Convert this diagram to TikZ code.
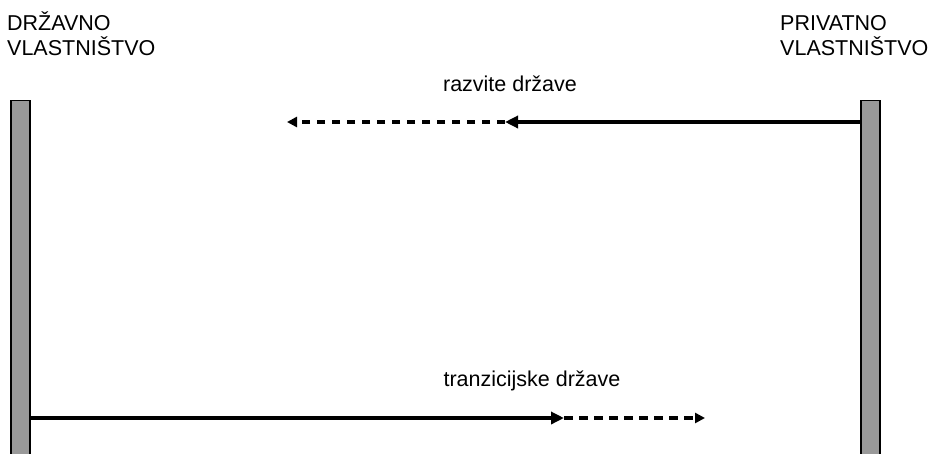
\documentclass[tikz,border=0pt]{standalone}
\usepackage{fontspec}
\setmainfont{Liberation Sans}
\usetikzlibrary{arrows.meta}
\begin{document}
\begin{tikzpicture}[x=1pt,y=-1pt,
  ownbar/.style={draw=black, line width=1.2pt, fill=black!40, inner sep=0pt,
                 minimum width=19pt, minimum height=360pt, anchor=north},
  heading/.style={font=\fontsize{21.5}{25}\selectfont, align=left, inner sep=0pt, anchor=base west},
  flowlabel/.style={font=\fontsize{21.5}{25}\selectfont, inner sep=0pt, anchor=base},
  solidflow/.style={line width=4.6pt, -{Triangle[length=13pt,width=12pt]}},
  dashflow/.style={line width=3.2pt, dash pattern=on 8.5pt off 6.5pt, -{Triangle[length=10pt,width=10pt]}}]
  \useasboundingbox (0,0) rectangle (931,453);
  \clip (0,0) rectangle (931,453);

  % ownership columns
  \node[ownbar] (statebar) at (20.5,100) {};
  \node[ownbar] (privbar) at (870.5,100) {};

  % headings (anchored at the baseline of the second line)
  \node[heading] (statehead) at (7,55) {DRŽAVNO\\VLASTNIŠTVO};
  \node[heading] (privhead) at (780,55) {PRIVATNO\\VLASTNIŠTVO};

  % developed countries: from private towards state ownership
  \coordinate (devmid) at (505,122);
  \coordinate (devend) at (287,122);
  \node[flowlabel] (devlabel) at (510,91) {razvite države};
  \draw[solidflow] (privbar.west |- devmid) -- (devmid);
  \draw[dashflow] (devmid) -- (devend);

  % transition countries: from state towards private ownership
  \coordinate (transmid) at (564,418);
  \coordinate (transend) at (705,418);
  \node[flowlabel] (translabel) at (532,386) {tranzicijske države};
  \draw[solidflow] (statebar.east |- transmid) -- (transmid);
  \draw[dashflow] (transmid) -- (transend);
\end{tikzpicture}
\end{document}
